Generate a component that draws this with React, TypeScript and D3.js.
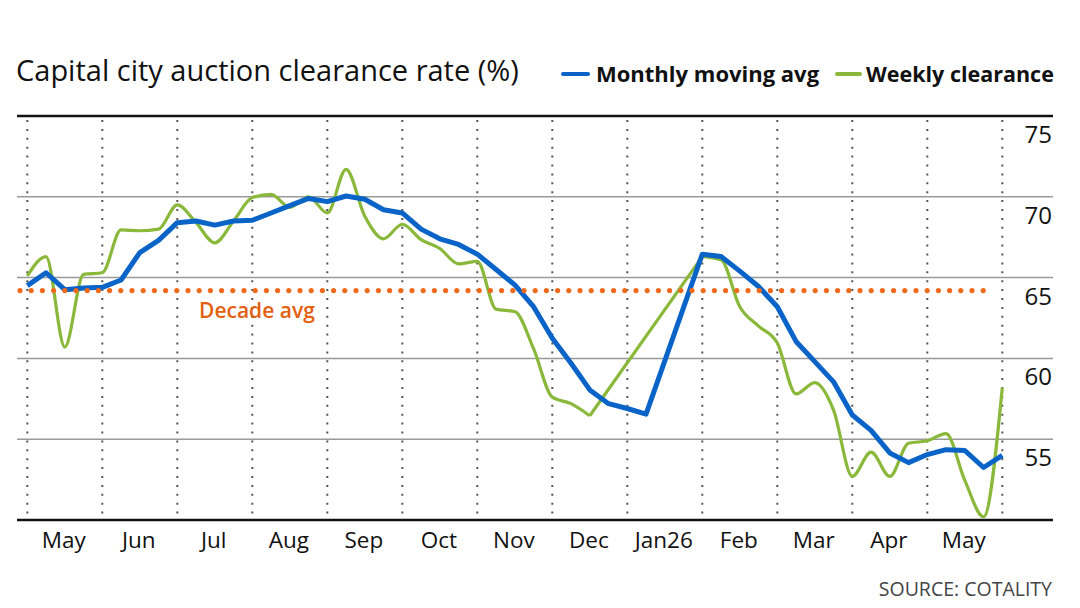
import React from "react";
import * as d3 from "d3";

// Weekly slots, May 2025 – May 2026 (index 0..52). null = no auctions reported.
const monthlyAvg: (number | null)[] = [
  64.5, 65.3, 64.25, 64.35, 64.4, 64.85, 66.55, 67.3, 68.4, 68.5, 68.25, 68.5, 68.55, 69.0,
  69.45, 69.9, 69.7, 70.05, 69.85, 69.2, 69.0, 68.0, 67.4, 67.05, 66.45, 65.5, 64.55, 63.2,
  61.25, 59.7, 58.05, 57.2, 56.9, 56.55, null, null,
  66.45, 66.3, 65.4, 64.45, 63.2, 61.05, 59.8, 58.55, 56.5, 55.55, 54.15, 53.55, 54.05,
  54.35, 54.3, 53.25, 54.0,
];

const weeklyClearance: (number | null)[] = [
  65.1, 66.3, 60.7, 65.2, 65.3, 67.95, 67.9, 68.0, 69.5, 68.4, 67.15, 68.5, 69.95, 70.15,
  69.35, 70.0, 69.0, 71.7, 68.8, 67.4, 68.3, 67.35, 66.8, 65.85, 66.0, 63.05, 62.9, 60.6,
  57.6, 57.2, 56.45, null, null, null, null, null,
  66.3, 66.1, 63.2, 62.0, 60.95, 57.8, 58.5, 56.8, 52.7, 54.2, 52.7, 54.75, 54.9, 55.35,
  52.45, 50.2, 58.2,
];

const decadeAvg = 64.2;

const monthLabels = ["May", "Jun", "Jul", "Aug", "Sep", "Oct", "Nov", "Dec", "Jan26", "Feb", "Mar", "Apr", "May"];
const yTicks = [55, 60, 65, 70, 75];
const weeksPerMonthBand = 4;

const BLUE = "#0a64c8";
const GREEN = "#8ab83a";
const ORANGE = "#ee6a1c";
const FONT = "'Open Sans', 'Noto Sans', sans-serif";

type Pt = { i: number; v: number | null };

export default function App() {
  const W = 1080;
  const H = 608;
  const lastIdx = monthlyAvg.length - 1;

  const x = d3.scaleLinear().domain([0, lastIdx]).range([27.3, 1002.3]);
  const y = d3.scaleLinear().domain([50, 75]).range([520, 116]);

  const left = 17;
  const right = 1053;

  const blueData: Pt[] = monthlyAvg.map((v, i) => ({ i, v }));
  const greenData: Pt[] = weeklyClearance.map((v, i) => ({ i, v }));

  // Moving average: straight segments, bridging the holiday break
  const bluePath = d3
    .line<Pt>()
    .x((d) => x(d.i))
    .y((d) => y(d.v as number))
    .curve(d3.curveLinear)(blueData.filter((d) => d.v !== null)) as string;

  // Weekly results: smooth within each run of reported weeks
  const greenCurve = d3
    .line<Pt>()
    .defined((d) => d.v !== null)
    .x((d) => x(d.i))
    .y((d) => y(d.v as number))
    .curve(d3.curveMonotoneX)(greenData) as string;

  // Straight joins across gaps in the weekly series
  const bridges: [Pt, Pt][] = [];
  for (let i = 1; i < greenData.length; i++) {
    if (greenData[i].v === null && greenData[i - 1].v !== null) {
      let j = i;
      while (j < greenData.length && greenData[j].v === null) j++;
      if (j < greenData.length) bridges.push([greenData[i - 1], greenData[j]]);
    }
  }
  const straight = d3
    .line<Pt>()
    .x((d) => x(d.i))
    .y((d) => y(d.v as number));

  const bandTicks = d3.range(0, lastIdx + 1, weeksPerMonthBand);

  return (
    <svg
      width={W}
      height={H}
      viewBox={`0 0 ${W} ${H}`}
      style={{ position: "absolute", left: 0, top: 0, background: "#fff" }}
    >
      <rect width={W} height={H} fill="#fff" />

      {/* Title */}
      <text x={16} y={81} fontFamily={FONT} fontSize={29} fill="#111">
        Capital city auction clearance rate (%)
      </text>

      {/* Legend */}
      <line x1={563} x2={588} y1={74} y2={74} stroke={BLUE} strokeWidth={4} strokeLinecap="round" />
      <text x={596} y={82} fontFamily={FONT} fontSize={22} fontWeight={700} fill="#111">
        Monthly moving avg
      </text>
      <line x1={837} x2={860} y1={74} y2={74} stroke={GREEN} strokeWidth={4} strokeLinecap="round" />
      <text x={866} y={82} fontFamily={FONT} fontSize={21.5} fontWeight={700} fill="#111">
        Weekly clearance
      </text>

      {/* Horizontal grid */}
      {yTicks
        .filter((t) => t !== 75)
        .map((t) => (
          <line key={t} x1={left} x2={right} y1={y(t)} y2={y(t)} stroke="#999" strokeWidth={1.5} />
        ))}

      {/* Month band separators */}
      {bandTicks.map((t) => (
        <line
          key={t}
          x1={x(t)}
          x2={x(t)}
          y1={y(75) + 4}
          y2={y(50)}
          stroke="#555"
          strokeWidth={2}
          strokeDasharray="2 6.9"
        />
      ))}

      {/* Frame lines */}
      <line x1={left} x2={right} y1={y(75)} y2={y(75)} stroke="#111" strokeWidth={2.5} />
      <line x1={left} x2={right} y1={y(50)} y2={y(50)} stroke="#111" strokeWidth={2.5} />

      {/* Y tick labels */}
      {yTicks.map((t) => (
        <text
          key={t}
          x={1052}
          y={y(t) + 27}
          textAnchor="end"
          fontFamily={FONT}
          fontSize={24}
          fill="#111"
        >
          {t}
        </text>
      ))}

      {/* Month labels */}
      {monthLabels.map((m, k) => (
        <text
          key={k}
          x={x(k * weeksPerMonthBand + weeksPerMonthBand / 2) - 1}
          y={548}
          textAnchor="middle"
          fontFamily={FONT}
          fontSize={22.5}
          fill="#111"
        >
          {m}
        </text>
      ))}

      {/* Series */}
      <path d={greenCurve} fill="none" stroke={GREEN} strokeWidth={3.2} strokeLinejoin="round" />
      {bridges.map(([a, b], k) => (
        <path key={k} d={straight([a, b]) as string} fill="none" stroke={GREEN} strokeWidth={3.2} />
      ))}
      <path d={bluePath} fill="none" stroke={BLUE} strokeWidth={5} strokeLinejoin="round" />

      {/* Decade average */}
      <line
        x1={20}
        x2={993}
        y1={y(decadeAvg)}
        y2={y(decadeAvg)}
        stroke={ORANGE}
        strokeWidth={5.2}
        strokeLinecap="round"
        strokeDasharray="0 11.2"
      />
      <text x={199} y={318} fontFamily={FONT} fontSize={21} fontWeight={600} fill="#e2600f">
        Decade avg
      </text>

      {/* Source */}
      <text x={1052} y={596} textAnchor="end" fontFamily={FONT} fontSize={19.5} fill="#444">
        SOURCE: COTALITY
      </text>
    </svg>
  );
}
